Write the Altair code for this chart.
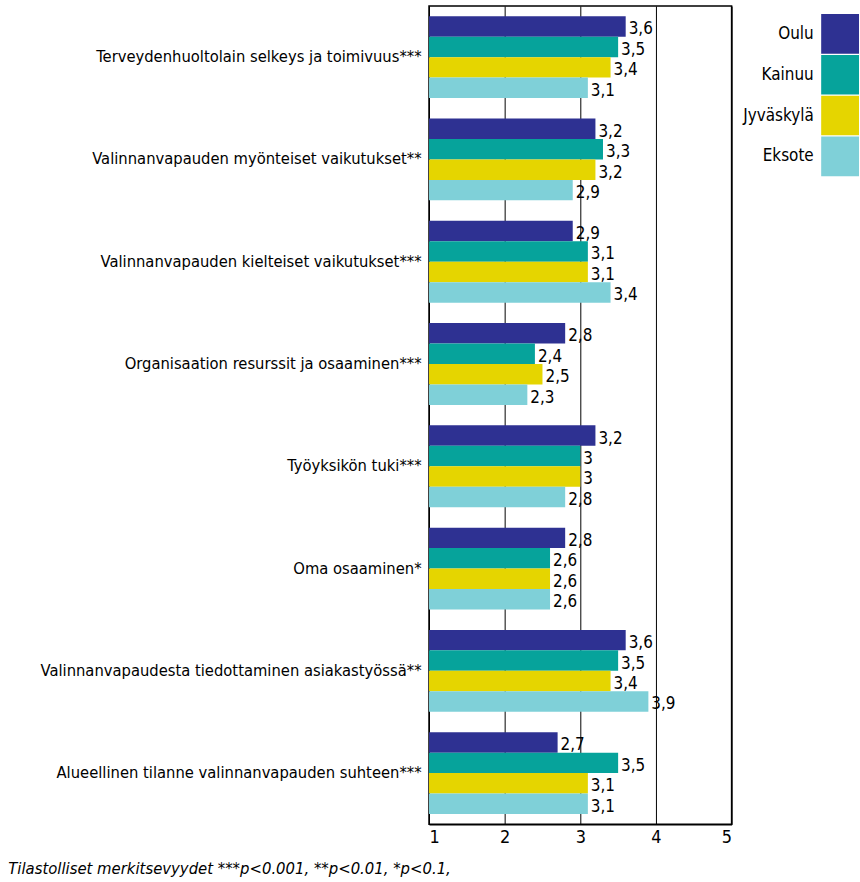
import altair as alt
import pandas as pd

# Survey statements (mean score on a 1-5 scale per region)
categories = [
    "Terveydenhuoltolain selkeys ja toimivuus***",
    "Valinnanvapauden myönteiset vaikutukset**",
    "Valinnanvapauden kielteiset vaikutukset***",
    "Organisaation resurssit ja osaaminen***",
    "Työyksikön tuki***",
    "Oma osaaminen*",
    "Valinnanvapaudesta tiedottaminen asiakastyössä**",
    "Alueellinen tilanne valinnanvapauden suhteen***",
]
regions = ["Oulu", "Kainuu", "Jyväskylä", "Eksote"]
oulu = [3.6, 3.2, 2.9, 2.8, 3.2, 2.8, 3.6, 2.7]
kainuu = [3.5, 3.3, 3.1, 2.4, 3.0, 2.6, 3.5, 3.5]
jyvaskyla = [3.4, 3.2, 3.1, 2.5, 3.0, 2.6, 3.4, 3.1]
eksote = [3.1, 2.9, 3.4, 2.3, 2.8, 2.6, 3.9, 3.1]
region_colors = ["#2E3192", "#06A39B", "#E5D500", "#7FD0D8"]
x_ticks = [1, 2, 3, 4, 5]
footnote = "Tilastolliset merkitsevyydet ***p<0.001, **p<0.01, *p<0.1,"

FONT = "DejaVu Sans Condensed, DejaVu Sans, sans-serif"

rows = []
for region, series in zip(regions, [oulu, kainuu, jyvaskyla, eksote]):
    for cat, v in zip(categories, series):
        rows.append({"kysymys": cat, "alue": region, "arvo": v})
df = pd.DataFrame(rows)

color = alt.Color("alue:N", scale=alt.Scale(domain=regions, range=region_colors), legend=None)
y = alt.Y(
    "kysymys:N",
    sort=categories,
    scale=alt.Scale(paddingInner=0.2, paddingOuter=0.1),
    axis=alt.Axis(
        title=None, domain=False, ticks=False, labelFontSize=16.5, labelColor="black",
        labelFont=FONT, labelPadding=8, labelLimit=0, minExtent=425, maxExtent=425,
    ),
)
y_off = alt.YOffset("alue:N", sort=regions, scale=alt.Scale(paddingInner=0, paddingOuter=0))
x = alt.X(
    "arvo:Q",
    scale=alt.Scale(domain=[1, 5], zero=False, nice=False),
    axis=alt.Axis(
        title=None, values=x_ticks, ticks=False, grid=True, gridColor="black", gridWidth=1,
        gridOpacity=1, domainColor="black", domainWidth=1.5, labelFontSize=18,
        labelFont=FONT, labelColor="black", labelPadding=4, format="d",
    ),
)

base = alt.Chart(df).encode(y=y, yOffset=y_off)

bars = base.mark_bar(clip=True).encode(x=x, x2=alt.datum(1), color=color)

labels = base.transform_calculate(
    teksti="replace(format(datum.arvo, '.1~f'), '.', ',')"
).mark_text(
    align="left", baseline="middle", dx=3, dy=3, fontSize=17, font=FONT, color="black"
).encode(x=alt.X("arvo:Q"), text="teksti:N")

main = alt.layer(bars, labels).properties(
    width=304, height=822, view=alt.ViewConfig(stroke="black", strokeWidth=1.5)
)

legend_df = pd.DataFrame({"alue": regions})
legend = alt.Chart(legend_df).mark_rect().encode(
    y=alt.Y(
        "alue:N",
        sort=regions,
        scale=alt.Scale(paddingInner=0.03, paddingOuter=0.196),
        axis=alt.Axis(
            title=None, domain=False, ticks=False, labelFontSize=17, labelFont=FONT,
            labelColor="black", labelPadding=8, minExtent=80, maxExtent=80,
        ),
    ),
    x=alt.value(0),
    x2=alt.value(38),
    color=color,
).properties(width=38, height=179, view=alt.ViewConfig(stroke="transparent"))

chart = alt.hconcat(main, legend, spacing=8).properties(
    padding={"left": 5, "top": 3, "right": 0, "bottom": 5},
    title=alt.TitleParams(
        footnote, orient="bottom", anchor="start", fontSize=16.6, font=FONT,
        fontStyle="italic", fontWeight="normal", color="black", offset=14, dx=3,
    ),
)

chart.save("out.html", embed_options={"renderer": "svg", "actions": False})
